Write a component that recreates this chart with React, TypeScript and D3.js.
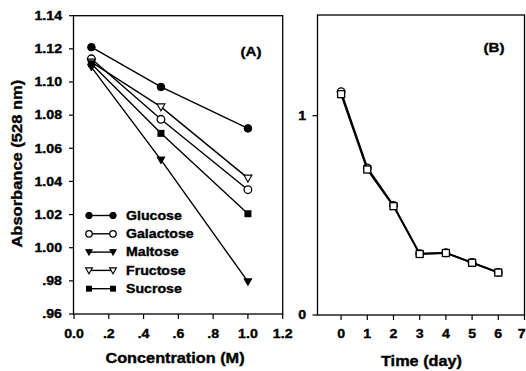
import React from "react";
import * as d3 from "d3";

const concentrations = [0.1, 0.5, 1.0];
const glucose = [1.121, 1.097, 1.072];
const galactose = [1.114, 1.0775, 1.035];
const maltose = [1.109, 1.053, 0.9795];
const fructose = [1.112, 1.085, 1.042];
const sucrose = [1.111, 1.069, 1.0205];
const seriesNames = ["Glucose", "Galactose", "Maltose", "Fructose", "Sucrose"];
const seriesMarkers = ["circleFilled", "circleOpen", "triDownFilled", "triDownOpen", "squareFilled"];

const xTicksA = [0, 0.2, 0.4, 0.6, 0.8, 1.0, 1.2];
const xTickLabelsA = ["0.0", ".2", ".4", ".6", ".8", "1.0", "1.2"];
const yTicksA = [0.96, 0.98, 1.0, 1.02, 1.04, 1.06, 1.08, 1.1, 1.12, 1.14];
const yTickLabelsA = [".96", ".98", "1.00", "1.02", "1.04", "1.06", "1.08", "1.10", "1.12", "1.14"];

const days = [0, 1, 2, 3, 4, 5, 6];
const timeCircles = [1.12, 0.738, 0.55, 0.308, 0.312, 0.263, 0.214];
const timeSquares = [1.108, 0.73, 0.546, 0.306, 0.311, 0.262, 0.213];
const xTicksB = [0, 1, 2, 3, 4, 5, 6, 7];
const yTicksB = [0, 1];

const FONT = "'Liberation Sans', Arial, sans-serif";
const SX = 1.18;

function T({ x, y, size, anchor = "middle", rotate = 0, children }: any) {
  const tr = `translate(${x},${y}) rotate(${rotate}) scale(${SX},1)`;
  return (
    <text transform={tr} fontFamily={FONT} fontWeight="bold" fontSize={size} textAnchor={anchor} fill="#000" stroke="#000" strokeWidth={0.35}>
      {children}
    </text>
  );
}

function Marker({ type, x, y, s = 1 }: any) {
  const r = 3.8 * s;
  const a = 4 * s;
  switch (type) {
    case "circleFilled":
      return <circle cx={x} cy={y} r={r} fill="#000" stroke="#000" strokeWidth={1} />;
    case "circleOpen":
      return <circle cx={x} cy={y} r={r} fill="#fff" stroke="#000" strokeWidth={1.3} />;
    case "triDownFilled":
      return <path d={`M${x - a},${y - a * 0.75}L${x + a},${y - a * 0.75}L${x},${y + a}Z`} fill="#000" stroke="#000" strokeWidth={0.8} />;
    case "triDownOpen":
      return <path d={`M${x - a},${y - a * 0.75}L${x + a},${y - a * 0.75}L${x},${y + a}Z`} fill="#fff" stroke="#000" strokeWidth={1.1} />;
    case "squareFilled":
      return <rect x={x - 3.5 * s} y={y - 3.5 * s} width={7 * s} height={7 * s} fill="#000" />;
    case "squareOpen":
      return <rect x={x - 3.5} y={y - 3.5} width={7} height={7} fill="#fff" stroke="#000" strokeWidth={1.3} />;
  }
  return null;
}

export default function App() {
  const W = 526, H = 371;
  // Panel A
  const xA = d3.scaleLinear().domain([0, 1.2]).range([74, 282.7]);
  const yA = d3.scaleLinear().domain([0.96, 1.14]).range([314, 15.7]);
  const seriesA = [glucose, galactose, maltose, fructose, sucrose];
  const lineA = d3.line<[number, number]>().x((d) => xA(d[0])).y((d) => yA(d[1]));
  // Panel B
  const xB = d3.scaleLinear().domain([-0.9, 7]).range([317.5, 524.5]);
  const yB = d3.scaleLinear().domain([0, 1.505]).range([315, 15]);
  const lineB = d3.line<[number, number]>().x((d) => xB(d[0])).y((d) => yB(d[1]));

  const legendY0 = 215.5;
  const legendDy = 18.3;

  return (
    <svg width={W} height={H} style={{ position: "absolute", left: 0, top: 0, background: "#fff" }}>
      <rect x={0} y={0} width={W} height={H} fill="#fff" />
      {/* Panel A frame */}
      <rect x={xA(0) - 0.5} y={yA(1.14)} width={xA(1.2) - xA(0) + 0.5} height={yA(0.96) - yA(1.14)} fill="none" stroke="#000" strokeWidth={1.3} />
      {yTicksA.map((t, i) => (
        <g key={"ya" + i}>
          <line x1={xA(0) - 5} x2={xA(0)} y1={yA(t)} y2={yA(t)} stroke="#000" strokeWidth={1.2} />
          <T x={62} y={yA(t) + 4.3} size={12} anchor="end">{yTickLabelsA[i]}</T>
        </g>
      ))}
      {xTicksA.map((t, i) => (
        <g key={"xa" + i}>
          <line x1={xA(t)} x2={xA(t)} y1={yA(0.96)} y2={yA(0.96) + 5} stroke="#000" strokeWidth={1.2} />
          <T x={xA(t)} y={338} size={12}>{xTickLabelsA[i]}</T>
        </g>
      ))}
      <T x={175} y={363} size={13.8}>Concentration (M)</T>
      <T x={21.5} y={163.7} size={14} rotate={-90}>Absorbance (528 nm)</T>
      <T x={251} y={56} size={12.8}>(A)</T>

      {seriesA.map((vals, si) => {
        const pts = concentrations.map((c, i) => [c, vals[i]] as [number, number]);
        return (
          <g key={"sa" + si}>
            <path d={lineA(pts) || ""} fill="none" stroke="#000" strokeWidth={1.4} />
            {pts.map((p, i) => (
              <Marker key={i} type={seriesMarkers[si]} x={xA(p[0])} y={yA(p[1])} />
            ))}
          </g>
        );
      })}

      {/* Legend */}
      {seriesNames.map((name, i) => {
        const y = legendY0 + i * legendDy;
        return (
          <g key={"lg" + i}>
            <line x1={89} x2={113} y1={y} y2={y} stroke="#000" strokeWidth={1.4} />
            <Marker type={seriesMarkers[i]} x={89} y={y} s={0.85} />
            <Marker type={seriesMarkers[i]} x={113} y={y} s={0.85} />
            <T x={126} y={y + 4.3} size={12} anchor="start">{name}</T>
          </g>
        );
      })}

      {/* Panel B frame */}
      <rect x={xB(-0.9)} y={yB(1.505)} width={xB(7) - xB(-0.9)} height={yB(0) - yB(1.505)} fill="none" stroke="#000" strokeWidth={1.3} />
      {yTicksB.map((t, i) => (
        <g key={"yb" + i}>
          <line x1={xB(-0.9) - 5} x2={xB(-0.9)} y1={yB(t)} y2={yB(t)} stroke="#000" strokeWidth={1.2} />
          <T x={306} y={yB(t) + 4.3} size={12} anchor="end">{String(t)}</T>
        </g>
      ))}
      {xTicksB.map((t, i) => (
        <g key={"xb" + i}>
          <line x1={xB(t)} x2={xB(t)} y1={yB(0)} y2={yB(0) + 5} stroke="#000" strokeWidth={1.2} />
          {t === 7 ? (
            <T x={525.5} y={338} size={12} anchor="end">{String(t)}</T>
          ) : (
            <T x={xB(t)} y={338} size={12}>{String(t)}</T>
          )}
        </g>
      ))}
      <T x={421.5} y={366} size={13.8}>Time (day)</T>
      <T x={494} y={52} size={12.8}>(B)</T>

      {[timeCircles, timeSquares].map((vals, si) => {
        const pts = days.map((d, i) => [d, vals[i]] as [number, number]);
        return (
          <g key={"sb" + si}>
            <path d={lineB(pts) || ""} fill="none" stroke="#000" strokeWidth={1.8} />
            {pts.map((p, i) => (
              <Marker key={i} type={si === 0 ? "circleOpen" : "squareOpen"} x={xB(p[0])} y={yB(p[1])} />
            ))}
          </g>
        );
      })}
    </svg>
  );
}
